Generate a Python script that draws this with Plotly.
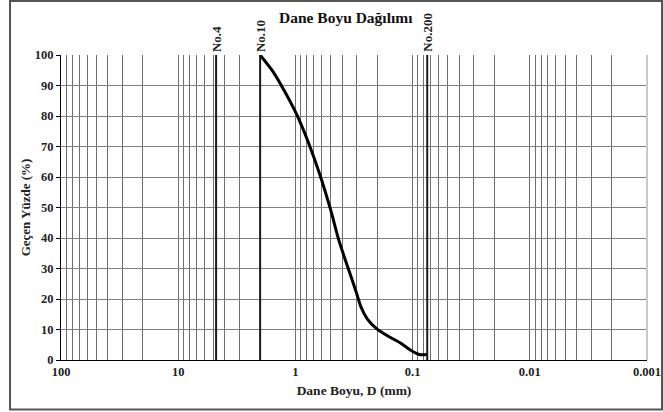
import math
import plotly.graph_objects as go

# Data
grain_size_mm = [2.0, 1.59, 1.30, 0.969, 0.769, 0.61, 0.50, 0.426, 0.375, 0.335, 0.303,
                 0.276, 0.244, 0.202, 0.160, 0.126, 0.103, 0.088, 0.075]
percent_passing = [100, 95.1, 89.6, 80.3, 71.0, 60.1, 49.2, 39.3, 32.8, 27.3, 22.3,
                   17.4, 13.5, 10.2, 7.7, 5.5, 3.1, 1.8, 1.8]

sieve_names = ["No.4", "No.10", "No.200"]
sieve_sizes = [4.75, 2.0, 0.075]

decade_vals = [100, 10, 1, 0.1, 0.01, 0.001]
decade_text = ["100", "10", "1", "0.1", "0.01", "0.001"]

# all 1..9 x 10^k grid values between 0.001 and 100
grid_vals = []
for e in range(-3, 2):
    for m in range(1, 10):
        grid_vals.append(round(m * 10 ** e, 6))
grid_vals.append(100)

W, H = 663, 412
L, R, T, B = 61, 16, 55, 52
pw = W - L - R
ph = H - T - B

serif = "Liberation Serif, Times New Roman, serif"

fig = go.Figure()

fig.add_trace(go.Scatter(
    x=grain_size_mm, y=percent_passing, mode="lines",
    line=dict(color="black", width=3, shape="spline", smoothing=0.6),
    hoverinfo="skip", showlegend=False,
))

# sieve lines and labels
for name, s in zip(sieve_names, sieve_sizes):
    fig.add_shape(type="line", xref="x", yref="paper", x0=s, x1=s, y0=0, y1=1,
                  line=dict(color="#1a1a1a", width=2))
    fig.add_annotation(x=math.log10(s), y=1, xref="x", yref="paper", text="<b>" + name + "</b>",
                       textangle=-90, showarrow=False, yanchor="bottom", xanchor="center",
                       yshift=1, font=dict(family=serif, size=13, color="#222"))

# outer frame
fig.add_shape(type="rect", xref="paper", yref="paper",
              x0=(10 - L) / pw, x1=(662 - L) / pw,
              y0=(H - B - 409.5) / ph, y1=(H - B - 1) / ph,
              line=dict(color="#555", width=2), layer="above")

# title
fig.add_annotation(x=(346 - L) / pw, y=(H - B - 17) / ph, xref="paper", yref="paper",
                   xanchor="center", yanchor="middle",
                   text="<b>Dane Boyu Dağılımı</b>", showarrow=False,
                   font=dict(family=serif, size=15.5, color="#111"))

tick_text = [decade_text[decade_vals.index(v)] if v in decade_vals else "" for v in grid_vals]

fig.update_layout(
    width=W, height=H,
    margin=dict(l=L, r=R, t=T, b=B, autoexpand=False),
    paper_bgcolor="white", plot_bgcolor="white",
    xaxis=dict(
        type="log", range=[2, -3],
        tickvals=grid_vals, ticktext=tick_text,
        showgrid=True, gridcolor="#6e6e6e", gridwidth=1,
        showline=True, linecolor="black", linewidth=1,
        ticks="", zeroline=False, automargin=False,
        tickfont=dict(family=serif, size=12.5, color="#222", weight="bold"),
        title=dict(text="<b>Dane Boyu, D (mm)</b>", font=dict(family=serif, size=13.5, color="#222"), standoff=7),
    ),
    yaxis=dict(
        range=[0, 100], dtick=10,
        showgrid=True, gridcolor="#808080", gridwidth=1,
        showline=True, linecolor="black", linewidth=1,
        ticks="outside", ticklen=4, tickcolor="black",
        zeroline=False, automargin=False,
        tickfont=dict(family=serif, size=12.5, color="#222", weight="bold"),
        title=dict(text="<b>Geçen Yüzde (%)</b>", font=dict(family=serif, size=13, color="#222"), standoff=1),
    ),
)

# light plot-area right border
fig.add_shape(type="line", xref="paper", yref="paper", x0=1, x1=1, y0=0, y1=1,
              line=dict(color="#c8c8c8", width=2))

fig.write_html("out.html", config={"displayModeBar": False},
               post_script="document.body.style.margin='0';document.body.style.overflow='hidden';")
